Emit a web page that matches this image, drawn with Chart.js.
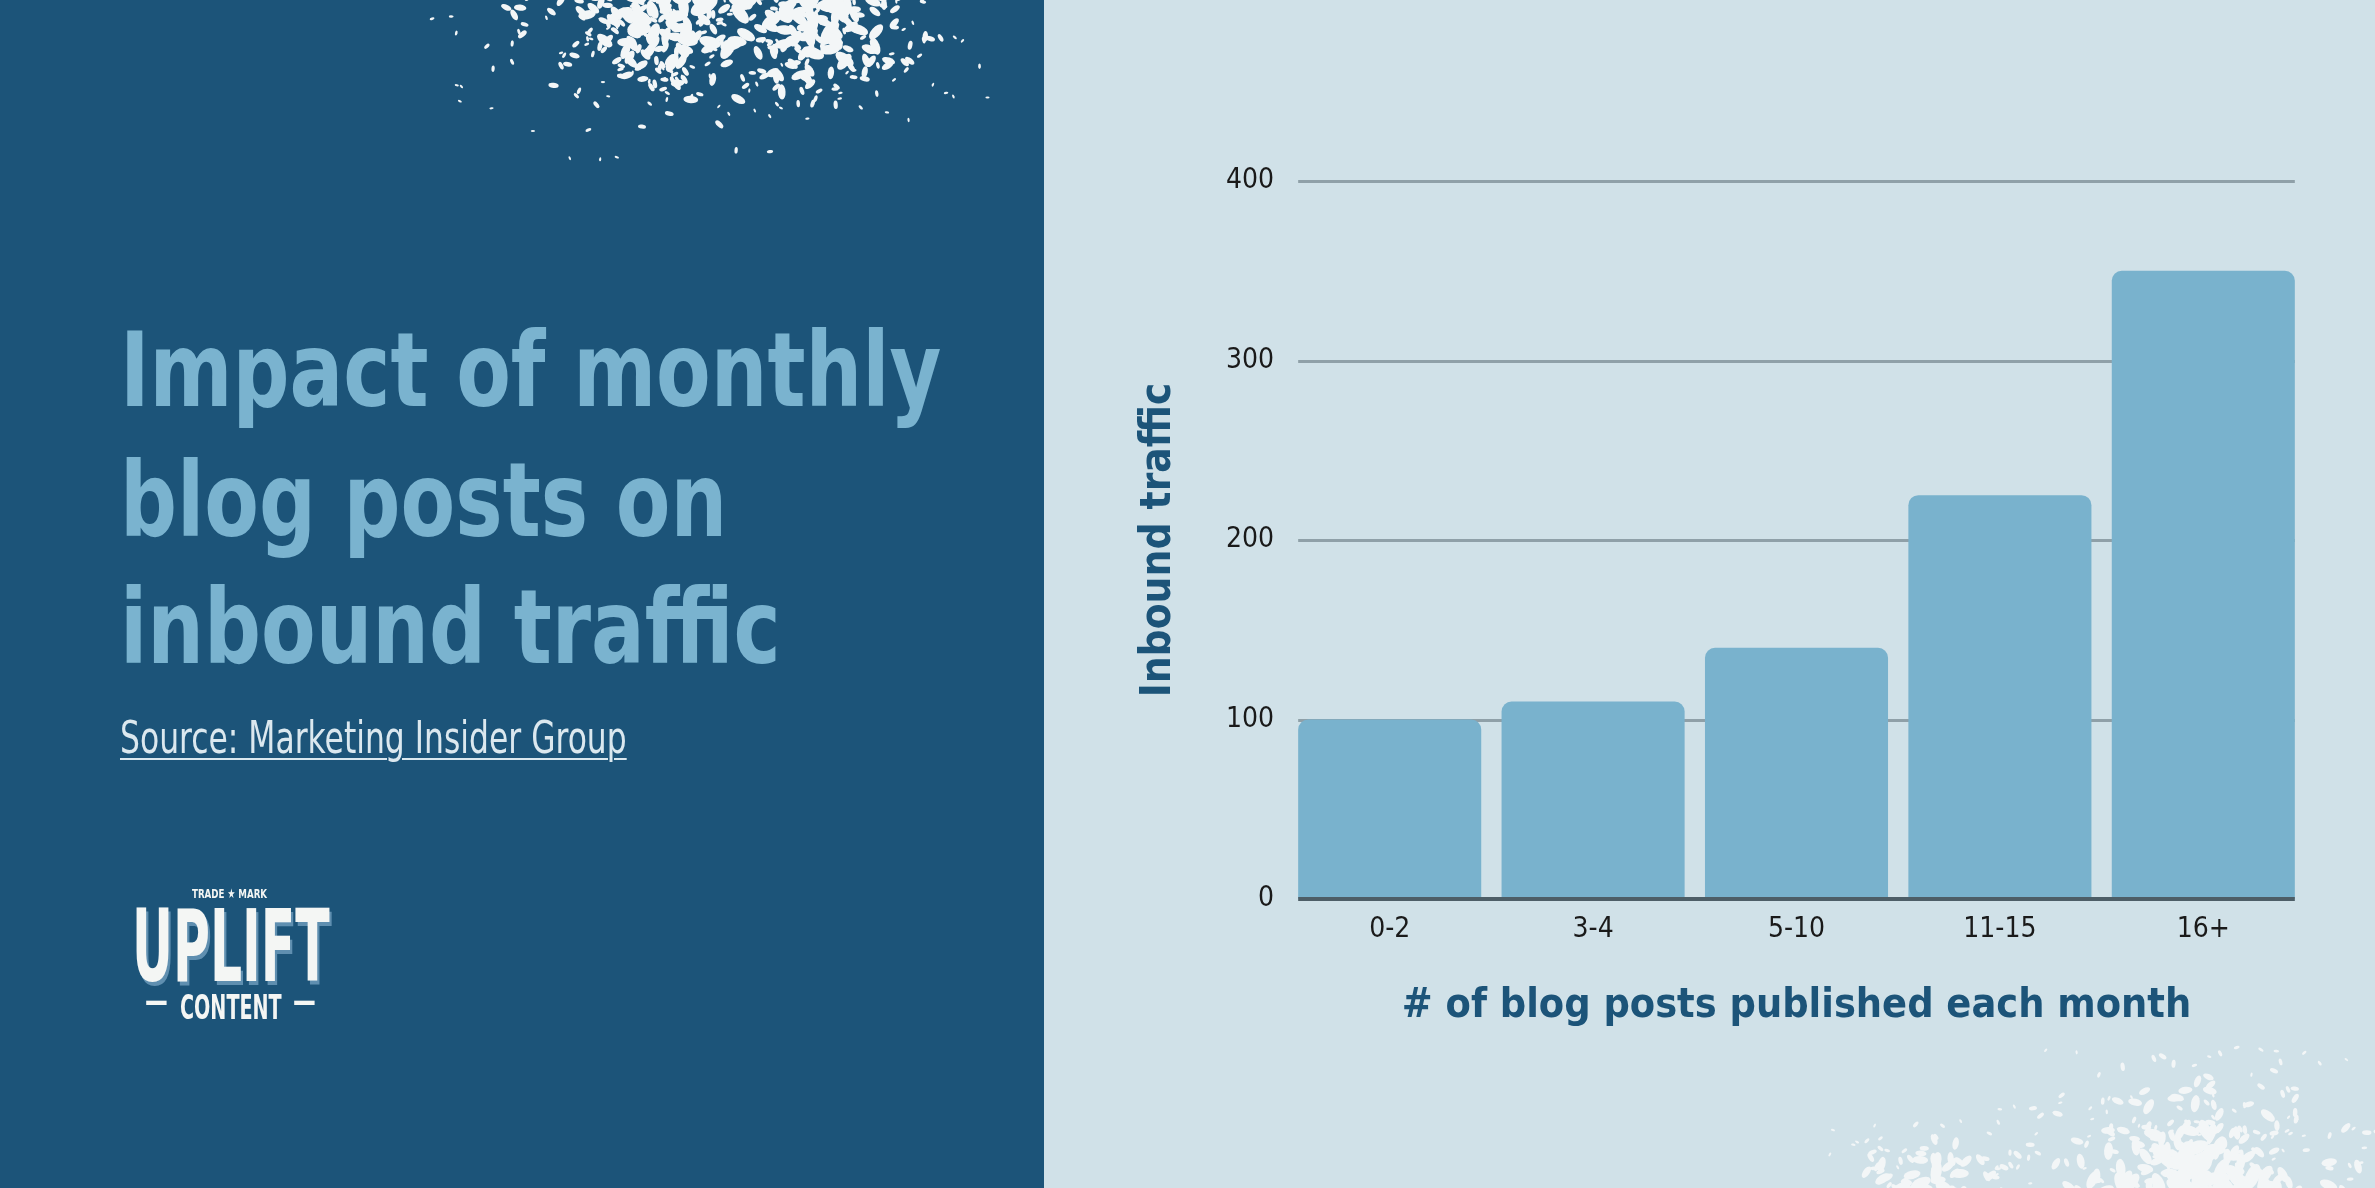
<!DOCTYPE html>
<html>
<head>
<meta charset="utf-8">
<title>Impact of monthly blog posts on inbound traffic</title>
<script src="https://cdn.jsdelivr.net/npm/chart.js@4.4.1/dist/chart.umd.min.js"></script>
<style>
  html, body { margin: 0; padding: 0; }
  body {
    width: 2375px; height: 1188px; position: relative; overflow: hidden;
    background: #d0e1e8;
    font-family: "Liberation Sans Narrow", "DejaVu Sans Condensed", "Liberation Sans", sans-serif;
  }
  #left { position: absolute; left: 0; top: 0; width: 1044px; height: 1188px; background: #1c5479; }
  #speckle { position: absolute; left: 0; top: 0; }
  #chartBox { position: absolute; left: 1044px; top: 0; width: 1331px; height: 1188px; }
  .txt { position: absolute; white-space: nowrap; line-height: 1; transform-origin: 0 0; }
  .title { left: 120px; font-size: 104px; font-weight: 700; color: #7ab3cf; }
  #source { left: 120px; font-size: 44px; color: #dbe8ef; text-decoration: underline; text-decoration-thickness: 2px; text-underline-offset: 5px; }
  .logo { color: #f4f6f4; font-weight: 700; }
</style>
</head>
<body>
<div id="left"></div>
<canvas id="speckle" width="2375" height="1188"></canvas>

<div class="txt title" id="t1">Impact of monthly</div>
<div class="txt title" id="t2">blog posts on</div>
<div class="txt title" id="t3">inbound traffic</div>
<div class="txt" id="source">Source: Marketing Insider Group</div>

<div class="txt logo" id="tm" style="font-size:13px;">TRADE ★ MARK</div>
<div class="txt logo" id="uplift" style="font-size:100px; text-shadow: 4px 4px 0 #5f8fb0;">UPLIFT</div>
<div class="txt logo" id="content" style="font-size:33px;">CONTENT</div>
<div class="txt logo" id="dashL" style="font-size:33px;">—</div>
<div class="txt logo" id="dashR" style="font-size:33px;">—</div>

<div id="chartBox"><canvas id="trafficChart"></canvas></div>

<script>
// chart data
const categories = ['0-2', '3-4', '5-10', '11-15', '16+'];
const inboundTraffic = [100, 110, 140, 225, 350];
const yTickValues = [0, 100, 200, 300, 400];

const barColor = '#79b2cd';
const gridColor = '#8fa0a8';
const axisColor = '#4d5e67';
const titleColor = '#1c5479';

// place a text box so its baseline sits at y, optionally squeezing it to a width
function place(id, x, baseline, width) {
  const el = document.getElementById(id);
  const size = parseFloat(getComputedStyle(el).fontSize);
  el.style.left = x + 'px';
  el.style.top = (baseline - size * 0.846) + 'px';
  if (width) {
    const w = el.offsetWidth;
    el.style.transform = 'scaleX(' + (width / w) + ')';
  }
  return el;
}

function layoutText() {
  // same horizontal squeeze for all three title lines
  const t1 = document.getElementById('t1');
  const k = 821 / t1.offsetWidth;
  ['t1', 't2', 't3'].forEach((id, i) => {
    const el = place(id, 120, [406, 536, 663][i]);
    el.style.transform = 'scaleX(' + k + ')';
  });
  place('source', 120, 753, 507);
  place('tm', 192, 898, 75);
  place('uplift', 132, 982, 198);
  place('content', 180, 1019, 102);
  place('dashL', 145, 1012, 23);
  place('dashR', 293, 1012, 23);
}

// white splatter decoration (deterministic hash, not data)
function hash(n) {
  const s = Math.sin(n * 127.1 + 311.7) * 43758.5453;
  return s - Math.floor(s);
}
function splatter(ctx, seed, count, cx, cy, sx, sy, maxR) {
  ctx.fillStyle = '#f3f6f7';
  for (let i = 0; i < count; i++) {
    const a = hash(seed + i * 4.1), b = hash(seed + i * 7.3);
    const c = hash(seed + i * 9.7), d = hash(seed + i * 13.9);
    const dx = (a + b - 1) * sx;
    const dy = (c + d - 1) * sy;
    const r = 1.5 + hash(seed + i * 2.3) * maxR * (1 - Math.min(1, Math.hypot(dx / sx, dy / sy)));
    const rot = hash(seed + i * 5.5) * Math.PI;
    ctx.beginPath();
    ctx.ellipse(cx + dx, cy + dy, r * 1.4, r * 0.7, rot, 0, Math.PI * 2);
    ctx.fill();
  }
}
function drawSpeckles() {
  const ctx = document.getElementById('speckle').getContext('2d');
  ctx.save();
  ctx.beginPath(); ctx.rect(0, 0, 1044, 1188); ctx.clip();
  splatter(ctx, 11, 380, 720, 0, 300, 170, 10);
  splatter(ctx, 57, 160, 660, 20, 90, 90, 9);
  splatter(ctx, 77, 200, 830, 20, 110, 110, 10);
  ctx.restore();
  ctx.save();
  ctx.beginPath(); ctx.rect(1044, 0, 1331, 1188); ctx.clip();
  splatter(ctx, 91, 420, 2200, 1200, 250, 170, 11);
  splatter(ctx, 133, 160, 1930, 1195, 110, 80, 10);
  splatter(ctx, 171, 160, 2200, 1180, 120, 90, 10);
  ctx.restore();
}

const customGrid = {
  id: 'customGrid',
  beforeDatasetsDraw(chart) {
    const { ctx } = chart;
    const y = chart.scales.y;
    const bars = chart.getDatasetMeta(0).data;
    const x0 = bars[0].x - bars[0].width / 2;
    const x1 = bars[bars.length - 1].x + bars[bars.length - 1].width / 2;
    ctx.save();
    ctx.strokeStyle = gridColor;
    ctx.lineWidth = 3;
    yTickValues.forEach(v => {
      if (v === 0) return;
      const py = Math.round(y.getPixelForValue(v)) + 0.5;
      ctx.beginPath(); ctx.moveTo(x0, py); ctx.lineTo(x1, py); ctx.stroke();
    });
    ctx.restore();
  },
  afterDatasetsDraw(chart) {
    const { ctx } = chart;
    const y = chart.scales.y;
    const bars = chart.getDatasetMeta(0).data;
    const x0 = bars[0].x - bars[0].width / 2;
    const x1 = bars[bars.length - 1].x + bars[bars.length - 1].width / 2;
    const py = Math.round(y.getPixelForValue(0));
    ctx.save();
    ctx.strokeStyle = axisColor;
    ctx.lineWidth = 4;
    ctx.beginPath(); ctx.moveTo(x0, py); ctx.lineTo(x1, py); ctx.stroke();
    ctx.restore();
  }
};

const condensed = '"Liberation Sans Narrow", "DejaVu Sans Condensed", sans-serif';

function drawChart() {
  const ctx = document.getElementById('trafficChart').getContext('2d');
  new Chart(ctx, {
    type: 'bar',
    data: {
      labels: categories,
      datasets: [{
        label: 'Inbound traffic',
        data: inboundTraffic,
        backgroundColor: barColor,
        borderRadius: 10,
        borderSkipped: 'start',
        barPercentage: 0.9,
        categoryPercentage: 1
      }]
    },
    options: {
      responsive: true,
      maintainAspectRatio: false,
      animation: false,
      layout: { padding: { top: 181, right: 70, bottom: 149, left: 0 } },
      plugins: {
        legend: { display: false },
        tooltip: { enabled: false }
      },
      scales: {
        x: {
          grid: { display: false, drawTicks: false },
          border: { display: false },
          ticks: {
            padding: 14,
            color: '#1a1a1a',
            font: { family: condensed, size: 28 }
          },
          title: {
            display: true,
            text: '# of blog posts published each month',
            color: titleColor,
            padding: { top: 0, bottom: 8 },
            font: { family: condensed, size: 41, weight: 'bold' }
          },
          afterFit(scale) { scale.height = 140; }
        },
        y: {
          min: 0,
          max: 400,
          afterBuildTicks(scale) { scale.ticks = yTickValues.map(v => ({ value: v })); },
          grid: { display: false, drawTicks: false },
          border: { display: false },
          ticks: {
            padding: 14,
            color: '#1a1a1a',
            font: { family: condensed, size: 28 }
          },
          title: {
            display: true,
            text: 'Inbound traffic',
            color: titleColor,
            padding: { top: 90, bottom: 0 },
            font: { family: condensed, size: 42, weight: 'bold' }
          },
          afterFit(scale) { scale.width = 244; }
        }
      }
    },
    plugins: [customGrid]
  });
}

drawSpeckles();
layoutText();
drawChart();
</script>
</body>
</html>
